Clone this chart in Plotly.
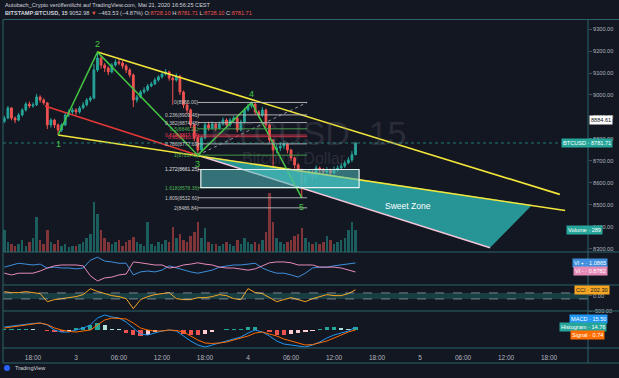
import plotly.graph_objects as go
import pandas as pd

# ---------------- data ----------------
BAR_START = "2020-05-02 14:00"   # 30-minute bars
opens = [8880, 8895, 8941, 8895, 8886, 8909, 8932, 8959, 8950, 8955,
         8991, 8977, 8964, 8864, 8886, 8864, 8841, 8864, 8909, 8923,
         8932, 8923, 8941, 8955, 8977, 8986, 9114, 9168, 9136, 9123,
         9105, 9136, 9150, 9145, 9132, 9114, 9091, 8977, 8991, 9014,
         9023, 9041, 9050, 9068, 9082, 9095, 9105, 9077, 9068, 9086,
         9014, 8955, 8932, 8864, 8805, 8750, 8805, 8864, 8850, 8868,
         8850, 8868, 8886, 8864, 8886, 8895, 8841, 8877, 8932, 8950,
         8959, 8923, 8909, 8932, 8864, 8795, 8750, 8759, 8768, 8777,
         8750, 8714, 8682, 8659, 8600, 8632, 8650, 8627, 8668, 8659,
         8650, 8659, 8645, 8659, 8668, 8677, 8691, 8705, 8728.10]
highs = [8905, 8950, 8945, 8902, 8918, 8940, 8968, 8970, 8966, 9005,
         8998, 8985, 8968, 8895, 8892, 8870, 8872, 8918, 8935, 8942,
         8940, 8950, 8968, 8986, 8995, 9140, 9195, 9178, 9145, 9130,
         9145, 9162, 9165, 9155, 9140, 9122, 9098, 9000, 9022, 9035,
         9050, 9060, 9078, 9090, 9105, 9118, 9110, 9085, 9098, 9090,
         9020, 8962, 8938, 8870, 8812, 8815, 8875, 8878, 8880, 8876,
         8880, 8898, 8894, 8896, 8905, 8900, 8888, 8942, 8960, 8966,
         8962, 8930, 8945, 8938, 8870, 8800, 8775, 8785, 8790, 8782,
         8755, 8720, 8690, 8665, 8645, 8662, 8658, 8680, 8675, 8668,
         8672, 8665, 8675, 8680, 8690, 8702, 8718, 8745, 8781.71]
lows = [8872, 8890, 8885, 8872, 8880, 8902, 8925, 8940, 8942, 8950,
        8965, 8955, 8845, 8852, 8850, 8818, 8832, 8858, 8900, 8912,
        8910, 8915, 8935, 8948, 8968, 8980, 9105, 9120, 9105, 9090,
        9098, 9128, 9135, 9120, 9100, 9080, 8945, 8965, 8985, 9005,
        9015, 9035, 9045, 9060, 9075, 9088, 9065, 8955, 9060, 9000,
        8940, 8915, 8850, 8790, 8726, 8742, 8798, 8838, 8842, 8836,
        8842, 8860, 8850, 8855, 8875, 8830, 8835, 8870, 8925, 8940,
        8910, 8895, 8900, 8850, 8780, 8665, 8735, 8745, 8755, 8735,
        8700, 8665, 8640, 8532, 8590, 8620, 8612, 8620, 8640, 8632,
        8640, 8630, 8640, 8650, 8660, 8668, 8685, 8695, 8728.10]
closes = [8895, 8941, 8895, 8886, 8909, 8932, 8959, 8950, 8955, 8991,
          8977, 8964, 8864, 8886, 8864, 8841, 8864, 8909, 8923, 8932,
          8923, 8941, 8955, 8977, 8986, 9114, 9168, 9136, 9123, 9105,
          9136, 9150, 9145, 9132, 9114, 9091, 8977, 8991, 9014, 9023,
          9041, 9050, 9068, 9082, 9095, 9105, 9077, 9068, 9086, 9014,
          8955, 8932, 8864, 8805, 8750, 8805, 8864, 8850, 8868, 8850,
          8868, 8886, 8864, 8886, 8895, 8841, 8877, 8932, 8950, 8959,
          8923, 8909, 8932, 8864, 8795, 8750, 8759, 8768, 8777, 8750,
          8714, 8682, 8659, 8600, 8632, 8650, 8627, 8668, 8659, 8650,
          8659, 8645, 8659, 8668, 8677, 8691, 8705, 8728.10, 8781.71]
volumes = [286, 130, 104, 78, 104, 156, 78, 130, 182, 455,
           156, 104, 286, 130, 104, 156, 78, 104, 65, 78,
           78, 104, 130, 182, 234, 650, 494, 286, 182, 130,
           104, 130, 156, 78, 130, 156, 195, 130, 104, 78,
           390, 104, 78, 130, 104, 156, 130, 325, 182, 234,
           156, 130, 208, 260, 390, 182, 312, 130, 104, 104,
           78, 104, 130, 104, 78, 156, 104, 182, 130, 104,
           130, 104, 156, 260, 767, 390, 182, 130, 104, 130,
           156, 208, 234, 312, 182, 130, 104, 130, 104, 130,
           208, 156, 104, 130, 156, 182, 286, 390, 289]

IND_START = "2020-05-02 14:00"   # hourly indicator samples
vi_plus = [0.99, 1.04, 1.08, 1.06, 1.04, 1.06, 0.97, 0.99, 0.97, 0.97,
           0.95, 0.97, 1.15, 1.22, 1.13, 1.11, 1.08, 1.08, 0.81, 0.88,
           0.90, 0.88, 0.92, 1.02, 0.97, 0.92, 0.88, 0.85, 0.88, 0.92,
           0.99, 1.02, 1.04, 1.04, 1.06, 1.08, 0.97, 0.90, 0.85, 0.85,
           0.81, 0.76, 0.85, 0.97, 0.99, 0.99, 1.02, 1.04, 1.06, 1.0865]
vi_minus = [0.85, 0.81, 0.85, 0.85, 0.85, 0.90, 0.97, 1.02, 1.04, 1.04,
            1.04, 1.02, 0.79, 0.67, 0.74, 0.76, 0.81, 0.83, 1.11, 1.09,
            1.06, 1.04, 1.04, 0.97, 0.99, 1.04, 1.06, 1.09, 1.06, 1.04,
            0.99, 0.97, 0.97, 0.95, 0.92, 0.95, 1.02, 1.09, 1.11, 1.11,
            1.09, 1.04, 1.04, 1.04, 0.99, 0.99, 0.99, 0.97, 0.92, 0.8782]
cci = [143, 110, 110, 143, 110, 77, -190, -123, -90, -57,
       -23, 43, 240, 150, 77, 10, -23, -90, -423, -123,
       -23, 43, 77, 110, -90, -123, -123, -57, -57, -23,
       43, 10, -90, -123, 243, 110, 77, -57, -190, -123,
       -57, -123, -190, -90, -23, 43, 10, 10, 77, 202.30]
macd = [16.5, 22, 27.5, 33, 36, 38.5, 27.5, 0, -11, -11,
        0, 11, 27.5, 66, 82.5, 71.5, 66, 44, 11, -22,
        -27.5, -16.5, -5.5, 0, -5.5, -33, -60.5, -82.5, -93.5, -82.5,
        -71.5, -60.5, -49.5, -38.5, -16.5, 0, -11, -33, -60.5, -77,
        -82.5, -88, -93.5, -82.5, -66, -44, -27.5, -16.5, -5.5, 15.50]
signal = [11, 16.5, 22, 27.5, 33, 38.5, 30, 11, 0, -8,
          -11, -5.5, 0, 27.5, 55, 66, 63, 60.5, 38.5, 11,
          0, -5.5, -5.5, 0, -3, -11, -33, -55, -71.5, -74,
          -71.5, -66, -55, -44, -33, -16.5, -11, -22, -33, -49.5,
          -60.5, -71.5, -82.5, -80, -71.5, -60.5, -44, -27.5, -11, 0.74]
hist = [5.5, 5.5, 5.5, 5.5, 3, 0, -2.5, -11, -11, -3,
        11, 16.5, 27.5, 38.5, 27.5, 5.5, 3, -16.5, -27.5, -33,
        -27.5, -11, 0, 0, -2.5, -22, -27.5, -27.5, -22, -8.5,
        0, 5.5, 5.5, 5.5, 16.5, 16.5, 0, -11, -27.5, -27.5,
        -22, -16.5, -11, -2.5, 5.5, 16.5, 16.5, 11, 5.5, 14.76]

time_ticks = ["2020-05-02 18:00", "2020-05-03 00:00", "2020-05-03 06:00", "2020-05-03 12:00",
              "2020-05-03 18:00", "2020-05-04 00:00", "2020-05-04 06:00", "2020-05-04 12:00",
              "2020-05-04 18:00", "2020-05-05 00:00", "2020-05-05 06:00", "2020-05-05 12:00",
              "2020-05-05 18:00"]
time_tick_labels = ["18:00", "3", "06:00", "12:00", "18:00", "4", "06:00", "12:00",
                    "18:00", "5", "06:00", "12:00", "18:00"]
price_ticks = [8300, 8400, 8500, 8600, 8700, 8800, 8900, 9000, 9100, 9200, 9300]
time_range = ["2020-05-02 13:49", "2020-05-05 23:26"]
price_range = [8286, 9341]

# drawings (time, price anchors)
wave_t = ["2020-05-02 21:30", "2020-05-03 03:00", "2020-05-03 17:00", "2020-05-04 00:30", "2020-05-04 07:30"]
wave_p = [8818, 9195, 8726.42, 8966.00, 8532]
wave_lbl = ["1", "2", "3", "4", "5"]
upper_t = ["2020-05-03 03:00", "2020-05-05 19:30"]
upper_p = [9195, 8548]
lower_t = ["2020-05-02 21:30", "2020-05-05 20:15"]
lower_p = [8818, 8475]
red_t = ["2020-05-02 19:40", "2020-05-03 17:00"]
red_p = [8950, 8726]
sweet_t = ["2020-05-03 17:00", "2020-05-05 15:38", "2020-05-05 09:46"]
sweet_p = [8726, 8500, 8305]
sweet_label_t, sweet_label_p = "2020-05-04 22:18", 8495
fib_t = ["2020-05-03 17:00", "2020-05-04 08:15"]
fib_p = [8726.42, 8966.00]           # level 1 -> level 0
fib_ratios = [0, 0.236, 0.382, 0.5, 0.618, 0.65, 0.786, 1, 1.272, 1.618, 1.809, 2]
rect_t = ["2020-05-03 17:25", "2020-05-04 15:30"]
rect_p = [8661.25, 8578.35]
cursor_price = 8884.61

# ---------------- styling ----------------
BG = "#131722"
FRAME = "#2c6468"
TXT = "#b2b5be"
UP, DOWN = "#26a69a", "#ef5350"
GREEN, YELLOW, RED = "#43c443", "#f2e53a", "#e53935"
FONT = "Liberation Sans"
W, H = 619, 378
ML, MR, MT, MB = 3, 31, 20, 30
PW, PH = W - ML - MR, H - MT - MB

def py(Y):
    return (H - MB - Y) / PH

def px(X):
    return (X - ML) / PW

t_bars = pd.date_range(BAR_START, periods=len(closes), freq="30min")
t_ind = pd.date_range(IND_START, periods=len(macd), freq="60min")

fig = go.Figure()

# volume
vol_colors = ["rgba(38,166,154,0.5)" if c >= o else "rgba(239,83,80,0.5)" for o, c in zip(opens, closes)]
fig.add_trace(go.Bar(x=t_bars, y=volumes, marker=dict(color=vol_colors, line=dict(width=0)),
                     width=1.8e6 * 0.7, xaxis="x", yaxis="y5", hoverinfo="skip"))

# sweet zone
fig.add_trace(go.Scatter(x=sweet_t + [sweet_t[0]], y=sweet_p + [sweet_p[0]], mode="lines",
                         fill="toself", fillcolor="rgba(44,176,176,0.82)", line=dict(width=0),
                         xaxis="x", yaxis="y", hoverinfo="skip"))
fig.add_trace(go.Scatter(x=[sweet_t[0], sweet_t[2]], y=[sweet_p[0], sweet_p[2]], mode="lines",
                         line=dict(color="#f3c6d8", width=1.5), xaxis="x", yaxis="y", hoverinfo="skip"))

# candles
fig.add_trace(go.Candlestick(x=t_bars, open=opens, high=highs, low=lows, close=closes,
                             increasing=dict(line=dict(color=UP, width=1), fillcolor=UP),
                             decreasing=dict(line=dict(color=DOWN, width=1), fillcolor=DOWN),
                             whiskerwidth=0, xaxis="x", yaxis="y", hoverinfo="skip"))

# trend lines
fig.add_trace(go.Scatter(x=red_t, y=red_p, mode="lines", line=dict(color=RED, width=1.6),
                         xaxis="x", yaxis="y", hoverinfo="skip"))
fig.add_trace(go.Scatter(x=upper_t, y=upper_p, mode="lines", line=dict(color=YELLOW, width=1.6),
                         xaxis="x", yaxis="y", hoverinfo="skip"))
fig.add_trace(go.Scatter(x=lower_t, y=lower_p, mode="lines", line=dict(color=YELLOW, width=1.6),
                         xaxis="x", yaxis="y", hoverinfo="skip"))
fig.add_trace(go.Scatter(x=fib_t, y=fib_p, mode="lines", line=dict(color="#9598a1", width=1, dash="dot"),
                         xaxis="x", yaxis="y", hoverinfo="skip"))
fig.add_trace(go.Scatter(x=wave_t, y=wave_p, mode="lines", line=dict(color=GREEN, width=1.5),
                         xaxis="x", yaxis="y", hoverinfo="skip"))

# VI
fig.add_trace(go.Scatter(x=t_ind, y=vi_plus, mode="lines", line=dict(color="#3f8fdc", width=1),
                         xaxis="x", yaxis="y2", hoverinfo="skip"))
fig.add_trace(go.Scatter(x=t_ind, y=vi_minus, mode="lines", line=dict(color="#e68ab8", width=1),
                         xaxis="x", yaxis="y2", hoverinfo="skip"))
# CCI
fig.add_trace(go.Scatter(x=t_ind, y=cci, mode="lines", line=dict(color="#f5a623", width=1),
                         xaxis="x", yaxis="y3", hoverinfo="skip"))
# MACD
hcols = []
for i, h in enumerate(hist):
    prev = hist[i - 1] if i else h
    if h >= 0:
        hcols.append("#26a69a" if h >= prev else "#b2dfdb")
    else:
        hcols.append("#ffcdd2" if h > prev else "#ef5350")
fig.add_trace(go.Bar(x=t_ind, y=hist, marker=dict(color=hcols, line=dict(width=0)), width=3.6e6 * 0.6,
                     xaxis="x", yaxis="y4", hoverinfo="skip"))
fig.add_trace(go.Scatter(x=t_ind, y=macd, mode="lines", line=dict(color="#2196f3", width=1),
                         xaxis="x", yaxis="y4", hoverinfo="skip"))
fig.add_trace(go.Scatter(x=t_ind, y=signal, mode="lines", line=dict(color="#ff6d00", width=1),
                         xaxis="x", yaxis="y4", hoverinfo="skip"))

shapes = []
ann = []

# fib levels
fib_cols = {0: "#c8c8c8", 0.236: "#c8c8c8", 0.382: "#c8c8c8", 0.5: "#4caf50", 0.618: "#e53950",
            0.65: "#e53950", 0.786: "#c8c8c8", 1: "#4caf50", 1.272: "#e0e0e0", 1.618: "#4caf50",
            1.809: "#c8c8c8", 2: "#c8c8c8"}
for r in fib_ratios:
    lvl = fib_p[1] - r * (fib_p[1] - fib_p[0])
    col = fib_cols[r]
    shapes.append(dict(type="line", xref="x", yref="y", x0=fib_t[0], x1=fib_t[1], y0=lvl, y1=lvl,
                       line=dict(color=col, width=1), opacity=0.85))
    ann.append(dict(x=fib_t[0], y=lvl, xref="x", yref="y", xanchor="right", yanchor="middle",
                    xshift=3, text=f"{r:g}({lvl:.2f})", showarrow=False,
                    font=dict(size=5, color=col, family=FONT)))

# target rectangle
shapes.append(dict(type="rect", xref="x", yref="y", x0=rect_t[0], x1=rect_t[1], y0=rect_p[1], y1=rect_p[0],
                   fillcolor="rgba(80,190,190,0.55)", line=dict(color="#e8f4f4", width=1.2)))

# last price line
shapes.append(dict(type="line", xref="paper", yref="y", x0=0, x1=1, y0=closes[-1], y1=closes[-1],
                   line=dict(color=UP, width=1, dash="dot"), opacity=0.7))
# CCI band
shapes.append(dict(type="rect", xref="paper", yref="y3", x0=0, x1=1, y0=-100, y1=100,
                   fillcolor="rgba(38,166,154,0.28)", line=dict(width=0), layer="below"))
for lv in (-100, 100):
    shapes.append(dict(type="line", xref="paper", yref="y3", x0=0, x1=1, y0=lv, y1=lv,
                       line=dict(color="rgba(200,205,210,0.55)", width=1, dash="dash")))

# frame / pane separators
for Y in (19.5, 252, 285, 311, 348, 363):
    shapes.append(dict(type="line", xref="paper", yref="paper", x0=px(3), x1=px(619), y0=py(Y), y1=py(Y),
                       line=dict(color=FRAME, width=1)))
shapes.append(dict(type="line", xref="paper", yref="paper", x0=px(3), x1=px(3), y0=py(19.5), y1=py(363),
                   line=dict(color=FRAME, width=1)))
shapes.append(dict(type="line", xref="paper", yref="paper", x0=1, x1=1, y0=py(19.5), y1=py(363),
                   line=dict(color=FRAME, width=1)))
# TradingView logo dot
shapes.append(dict(type="circle", xref="paper", yref="paper", x0=px(4), x1=px(10), y0=py(371), y1=py(365),
                   fillcolor="#2962ff", line=dict(width=0)))

# wave labels
for t, p, l in zip(wave_t, wave_p, wave_lbl):
    up = l in ("2", "4")
    ann.append(dict(x=t, y=p, xref="x", yref="y", text=l, showarrow=False, yshift=8 if up else -9,
                    font=dict(size=9, color=GREEN, family=FONT)))

ann.append(dict(x=sweet_label_t, y=sweet_label_p, xref="x", yref="y", text="Sweet Zone", showarrow=False,
                font=dict(size=8.5, color="#ffffff", family=FONT)))

# watermark
ann.append(dict(x=px(308), y=py(112), xref="paper", yref="paper", text="BTCUSD, 15", showarrow=False,
                font=dict(size=34, color="rgba(120,123,134,0.24)", family=FONT)))
ann.append(dict(x=px(294), y=py(158), xref="paper", yref="paper", text="Bitcoin / Dollar", showarrow=False,
                font=dict(size=16, color="rgba(120,123,134,0.24)", family=FONT)))

# header
ann.append(dict(x=px(3), y=py(5), xref="paper", yref="paper", xanchor="left", yanchor="middle",
                text="Autobach_Crypto veröffentlicht auf TradingView.com, Mai 21, 2020 16:56:25 CEST",
                showarrow=False, font=dict(size=5.6, color="#d1d4dc", family=FONT)))
rc = "#ef5350"
hdr2 = (f"<b>BITSTAMP:BTCUSD, 15</b> 9052.98 <span style='color:{rc}'>▼</span> −463.53 (−4.87%) "
        f"O:<span style='color:{rc}'>{opens[-1]:.2f}</span> H:<span style='color:{rc}'>{highs[-1]:.2f}</span> "
        f"L:<span style='color:{rc}'>{lows[-1]:.2f}</span> C:<span style='color:{rc}'>{closes[-1]:.2f}</span>")
ann.append(dict(x=px(3), y=py(13), xref="paper", yref="paper", xanchor="left", yanchor="middle",
                text=hdr2, showarrow=False, font=dict(size=5.6, color="#d1d4dc", family=FONT)))
ann.append(dict(x=px(13), y=py(368), xref="paper", yref="paper", xanchor="left", yanchor="middle",
                text="TradingView", showarrow=False, font=dict(size=5.5, color="#d1d4dc", family=FONT)))

# right-hand value tags
def tag(text, yref, y, bg, fg, xr, anchor="right"):
    ann.append(dict(x=px(xr), y=y, xref="paper", yref=yref, xanchor=anchor, yanchor="middle", text=text,
                    showarrow=False, bgcolor=bg, borderpad=1, font=dict(size=5.6, color=fg, family=FONT)))

tag(f"{cursor_price:.2f}", "y", cursor_price, "#ffffff", "#131722", 589, "left")
tag(f"BTCUSD · {closes[-1]:.2f}", "y", closes[-1], "#26a69a", "#ffffff", 613)
tag(f"Volume · {volumes[-1]}", "y5", volumes[-1], "#26a69a", "#ffffff", 603)
tag(f"VI + · {vi_plus[-1]:.4f}", "paper", py(263), "#3f8fdc", "#ffffff", 608)
tag(f"VI - · {vi_minus[-1]:.4f}", "paper", py(271), "#e68ab8", "#ffffff", 608)
tag(f"CCI · {cci[-1]:.2f}", "y3", cci[-1], "#f5a623", "#131722", 610)
tag(f"MACD · {macd[-1]:.2f}", "paper", py(319), "#2196f3", "#ffffff", 608)
tag(f"Histogram · {hist[-1]:.2f}", "paper", py(327), "#26a69a", "#ffffff", 607)
tag(f"Signal · {signal[-1]:.2f}", "paper", py(335), "#ff6d00", "#ffffff", 605)

common_y = dict(showgrid=False, zeroline=False, fixedrange=True)
fig.update_layout(
    width=W, height=H, margin=dict(l=ML, r=MR, t=MT, b=MB),
    paper_bgcolor=BG, plot_bgcolor=BG, showlegend=False, bargap=0,
    font=dict(family=FONT, color=TXT),
    xaxis=dict(type="date", range=time_range, domain=[0, 1], anchor="y4",
               tickvals=time_ticks, ticktext=time_tick_labels, showgrid=False, zeroline=False,
               showline=False, ticks="outside", ticklen=3, tickcolor=BG,
               tickfont=dict(size=6.5, color=TXT, family=FONT),
               rangeslider=dict(visible=False), fixedrange=True),
    yaxis=dict(domain=[py(252), 1], range=price_range, side="right", anchor="x",
               tickvals=price_ticks, ticktext=[f"{v:.2f}" for v in price_ticks],
               ticks="outside", ticklen=3, tickcolor="#4a4e59",
               tickfont=dict(size=5.6, color=TXT, family=FONT), **common_y),
    yaxis2=dict(domain=[py(285), py(252)], range=[0.577, 1.34], anchor="x",
                showticklabels=False, **common_y),
    yaxis3=dict(domain=[py(311), py(285)], range=[-500, 363], anchor="x", side="right",
                tickvals=[0, -500], ticktext=["0.00", "-500.00"], ticks="outside", ticklen=3,
                tickcolor="#4a4e59", tickfont=dict(size=5.6, color=TXT, family=FONT), **common_y),
    yaxis4=dict(domain=[0, py(311)], range=[-99, 104.5], anchor="x",
                showticklabels=False, **common_y),
    yaxis5=dict(overlaying="y", range=[0, 3016], visible=False, fixedrange=True),
    shapes=shapes, annotations=ann,
)

fig.write_html("out.html", config={"displayModeBar": False},
               post_script="document.body.style.margin='0';document.body.style.overflow='hidden';"
                           "document.body.style.background='#131722';")
